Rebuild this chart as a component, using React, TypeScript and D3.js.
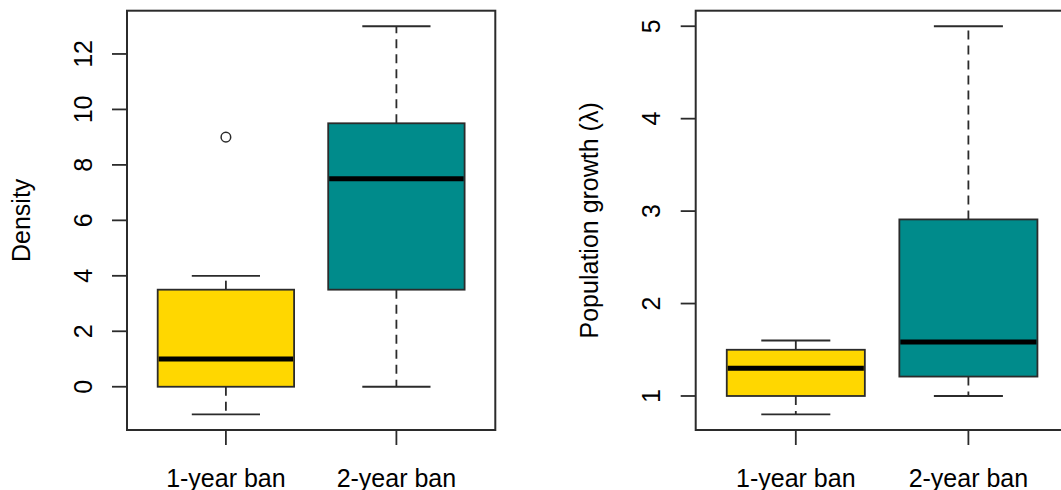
import React, { useEffect, useRef } from 'react';
import * as d3 from 'd3';

// groups on the x axis
const categories = ['1-year ban', '2-year ban'];
const fills = ['#FFD700', '#008B8B'];

// five-number summaries [lower whisker, Q1, median, Q3, upper whisker]
const densityStats = [
  [-1, 0, 1, 3.5, 4],
  [0, 3.5, 7.5, 9.5, 13],
];
const densityOutliers = [[9], []];
const densityTicks = [0, 2, 4, 6, 8, 10, 12];

const growthStats = [
  [0.8, 1.0, 1.3, 1.5, 1.6],
  [1.0, 1.21, 1.585, 2.91, 5.0],
];
const growthOutliers = [[], []];
const growthTicks = [1, 2, 3, 4, 5];

interface Panel {
  left: number;
  right: number;
  stats: number[][];
  outliers: number[][];
  ticks: number[];
  title: string;
}

const W = 1061;
const H = 490;
const TOP = 10.7;
const BOTTOM = 430;
const FONT = '"Liberation Sans", Arial, sans-serif';
const FS = 25;
const INK = '#2b2b2b';

const App: React.FC = () => {
  const svgRef = useRef<SVGSVGElement>(null);

  useEffect(() => {
    if (!svgRef.current) return;
    const svg = d3.select(svgRef.current);
    svg.selectAll('*').remove();

    const panels: Panel[] = [
      { left: 127, right: 495.3, stats: densityStats, outliers: densityOutliers, ticks: densityTicks, title: 'Density' },
      { left: 695.7, right: 1068.5, stats: growthStats, outliers: growthOutliers, ticks: growthTicks, title: 'Population growth (\u03bb)' },
    ];

    panels.forEach(p => {
      const g = svg.append('g');

      // R style 4% expansion of the data range
      const all = p.stats.flat().concat(p.outliers.flat());
      const lo = d3.min(all) as number;
      const hi = d3.max(all) as number;
      const pad = (hi - lo) * 0.04;
      const y = d3.scaleLinear().domain([lo - pad, hi + pad]).range([BOTTOM, TOP]);
      const x = d3.scaleLinear().domain([0.42, 2.58]).range([p.left, p.right]);
      const unit = x(2) - x(1);

      // boxes
      p.stats.forEach((s, i) => {
        const cx = x(i + 1);
        const half = unit * 0.4;
        const cap = unit * 0.2;
        const [mn, q1, med, q3, mx] = s;

        g.append('line')
          .attr('x1', cx).attr('x2', cx)
          .attr('y1', y(q3)).attr('y2', y(mx))
          .attr('stroke', INK).attr('stroke-width', 1.8)
          .attr('stroke-dasharray', '9,6');
        g.append('line')
          .attr('x1', cx).attr('x2', cx)
          .attr('y1', y(q1)).attr('y2', y(mn))
          .attr('stroke', INK).attr('stroke-width', 1.8)
          .attr('stroke-dasharray', '9,6');
        [mn, mx].forEach(v => {
          g.append('line')
            .attr('x1', cx - cap).attr('x2', cx + cap)
            .attr('y1', y(v)).attr('y2', y(v))
            .attr('stroke', INK).attr('stroke-width', 1.8);
        });

        g.append('rect')
          .attr('x', cx - half)
          .attr('y', y(q3))
          .attr('width', half * 2)
          .attr('height', y(q1) - y(q3))
          .attr('fill', fills[i])
          .attr('stroke', INK)
          .attr('stroke-width', 1.8);

        g.append('line')
          .attr('x1', cx - half + 1).attr('x2', cx + half - 1)
          .attr('y1', y(med)).attr('y2', y(med))
          .attr('stroke', '#000').attr('stroke-width', 5);

        p.outliers[i].forEach(o => {
          g.append('circle')
            .attr('cx', cx).attr('cy', y(o)).attr('r', 4.8)
            .attr('fill', 'none').attr('stroke', INK).attr('stroke-width', 1.5);
        });
      });

      // plot frame
      g.append('rect')
        .attr('x', p.left).attr('y', TOP)
        .attr('width', p.right - p.left).attr('height', BOTTOM - TOP)
        .attr('fill', 'none').attr('stroke', INK).attr('stroke-width', 2);

      // y axis
      p.ticks.forEach(t => {
        g.append('line')
          .attr('x1', p.left - 15).attr('x2', p.left)
          .attr('y1', y(t)).attr('y2', y(t))
          .attr('stroke', INK).attr('stroke-width', 1.8);
        g.append('text')
          .attr('transform', `translate(${p.left - 35.5},${y(t)}) rotate(-90)`)
          .attr('text-anchor', 'middle')
          .attr('font-family', FONT)
          .attr('font-size', FS)
          .attr('fill', '#000')
          .text(t);
      });

      // x axis
      categories.forEach((c, i) => {
        const cx = x(i + 1);
        g.append('line')
          .attr('x1', cx).attr('x2', cx)
          .attr('y1', BOTTOM).attr('y2', BOTTOM + 15)
          .attr('stroke', INK).attr('stroke-width', 1.8);
        g.append('text')
          .attr('x', cx).attr('y', 486.5)
          .attr('text-anchor', 'middle')
          .attr('font-family', FONT)
          .attr('font-size', FS)
          .attr('fill', '#000')
          .text(c);
      });

      // y title
      g.append('text')
        .attr('transform', `translate(${p.left - 97.5},${(TOP + BOTTOM) / 2}) rotate(-90)`)
        .attr('text-anchor', 'middle')
        .attr('font-family', FONT)
        .attr('font-size', FS)
        .attr('fill', '#000')
        .text(p.title);
    });
  }, []);

  return (
    <svg
      ref={svgRef}
      width={W}
      height={H}
      style={{ position: 'absolute', left: 0, top: 0, background: '#fff', overflow: 'hidden' }}
    />
  );
};

export default App;
